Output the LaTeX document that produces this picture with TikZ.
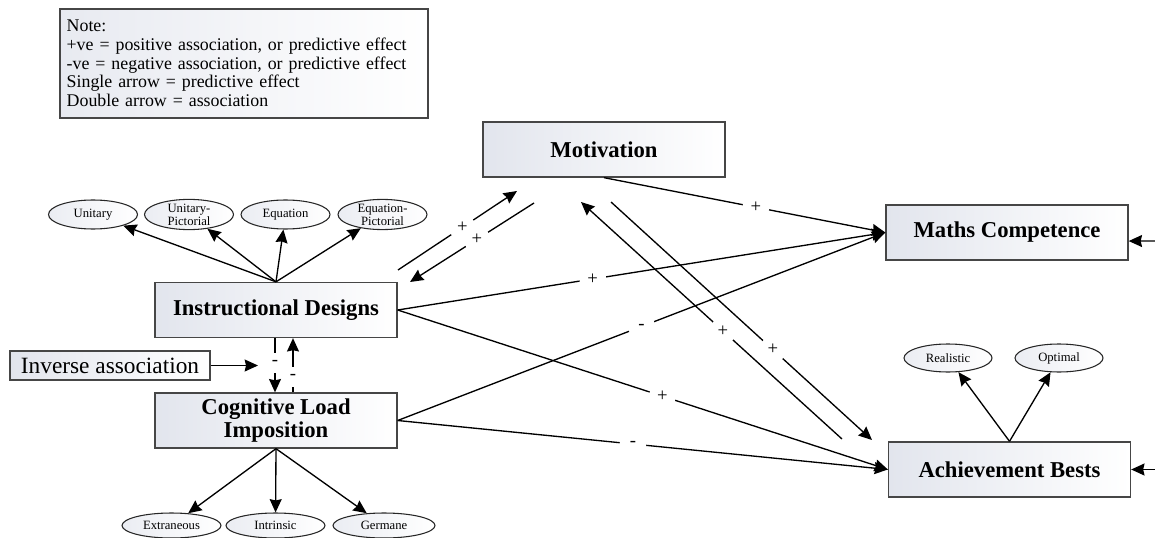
\documentclass[tikz,border=0pt]{standalone}
\usepackage{fontspec}
\setmainfont{Liberation Serif}
\usetikzlibrary{arrows.meta,shapes.geometric}
\definecolor{boxfill}{RGB}{226,229,237}
\definecolor{boxline}{RGB}{70,70,70}
\tikzset{
  arr/.style={line width=1pt, -{Stealth[length=10pt,width=9pt,inset=1pt]}},
  box/.style={draw=boxline, line width=1pt, rectangle, left color=boxfill, right color=white,
    minimum width=181.5pt, minimum height=41.25pt, inner sep=2pt, align=center,
    font=\fontsize{17}{17.5}\selectfont\bfseries},
  oval/.style={draw=black!85, line width=0.8pt, ellipse, left color=boxfill!70, right color=white,
    inner sep=0pt, minimum width=66.75pt, minimum height=21.75pt, align=center,
    font=\fontsize{9.5}{8}\selectfont},
  sign/.style={circle, fill=white, inner sep=0pt, minimum size=20pt, font=\fontsize{14}{14}\selectfont},
  vsign/.style={rectangle, fill=white, inner sep=0pt, minimum width=8pt, minimum height=15pt, font=\fontsize{14}{14}\selectfont},
}
\begin{document}
\begin{tikzpicture}[x=0.75pt,y=-0.75pt]
\useasboundingbox (0,0) rectangle (1155,538);

% note
\node[draw=boxline, line width=1pt, left color=boxfill!80, right color=white,
  minimum width=276pt, minimum height=81.75pt, text width=266pt, inner xsep=5pt,
  align=left, font=\fontsize{13.4}{14}\selectfont] (note) at (244,63.5)
  {Note:\\+ve = positive association, or predictive effect\\-ve = negative association, or predictive effect\\Single arrow = predictive effect\\Double arrow = association};

% main boxes
\node[box] (mot) at (604,149.5) {Motivation};
\node[box] (mc) at (1007,232.5) {Maths Competence};
\node[box] (ab) at (1009.5,469.5) {Achievement Bests};
\node[box] (id) at (276,310) {Instructional Designs};
\node[box] (cl) at (276,420.5) {Cognitive Load\\Imposition};
\node[box, font=\fontsize{17.5}{17.5}\selectfont, minimum width=150pt, minimum height=21.75pt] (inv) at (110,365.5) {Inverse association};

% ovals
\node[oval] (unit) at (93,214.5) {Unitary};
\node[oval] (unitp) at (189,214.5) {Unitary-\\Pictorial};
\node[oval] (eq) at (285.5,214.5) {Equation};
\node[oval] (eqp) at (382.5,214.5) {Equation-\\Pictorial};
\node[oval, minimum width=74.25pt, minimum height=18.75pt] (ext) at (171.5,525.5) {Extraneous};
\node[oval, minimum width=74.25pt, minimum height=18.75pt] (intr) at (275.5,525.5) {Intrinsic};
\node[oval, minimum width=76.5pt, minimum height=18.75pt] (germ) at (384,525.5) {Germane};
\node[oval, minimum width=66pt, minimum height=21pt] (real) at (948,358) {Realistic};
\node[oval, minimum width=66pt, minimum height=21pt] (opt) at (1059,358) {Optimal};

% indicator arrows
\foreach \o in {unit,unitp,eq,eqp} \draw[arr] (id.north) -- (\o);
\foreach \o in {ext,intr,germ} \draw[arr] (cl.south) -- (\o);
\draw[arr] (ab.north) -- (real);
\draw[arr] (ab.north) -- (opt);

% free-end coordinates
\coordinate (invtip) at (258,365.5);
\coordinate (mcsrc) at (1160,241);
\coordinate (absrc) at (1160,469.5);
\coordinate (p1s) at (398,270);
\coordinate (p1e) at (517,191);
\coordinate (p2s) at (534,203);
\coordinate (p2e) at (410,282);
\coordinate (qAs) at (842,439);
\coordinate (qAe) at (581,202);
\coordinate (qBs) at (611,202);
\coordinate (qBe) at (872,440);

% structural paths
\draw[arr] (mot.south) -- node[sign, pos=0.54] {+} (mc.west);
\draw[arr] (id.east) -- node[sign, pos=0.40] {+} (mc.west);
\draw[arr] (cl.east) -- node[sign, pos=0.50] {-} (mc.west);
\draw[arr] (id.east) -- node[sign, pos=0.54] {+} (ab.west);
\draw[arr] (cl.east) -- node[sign, pos=0.48] {-} (ab.west);

\draw[arr] (p1s) -- node[sign, pos=0.54] {+} (p1e);
\draw[arr] (p2s) -- node[sign, pos=0.46] {+} (p2e);
\draw[arr] (qAs) -- node[sign, pos=0.456] {+} (qAe);
\draw[arr] (qBs) -- node[sign, pos=0.62] {+} (qBe);

% inverse association
\draw[arr] ([xshift=-0.75pt]id.south) -- node[vsign, pos=0.45] {-} ([xshift=-0.75pt]cl.north);
\draw[arr] ([xshift=12.75pt]cl.north) -- node[vsign, pos=0.29] {-} ([xshift=12.75pt]id.south);
\draw[arr] (inv.east) -- (invtip);

% external arrows
\draw[arr] (mcsrc) -- ([yshift=-6.4pt]mc.east);
\draw[arr] (absrc) -- (ab.east);
\end{tikzpicture}
\end{document}
